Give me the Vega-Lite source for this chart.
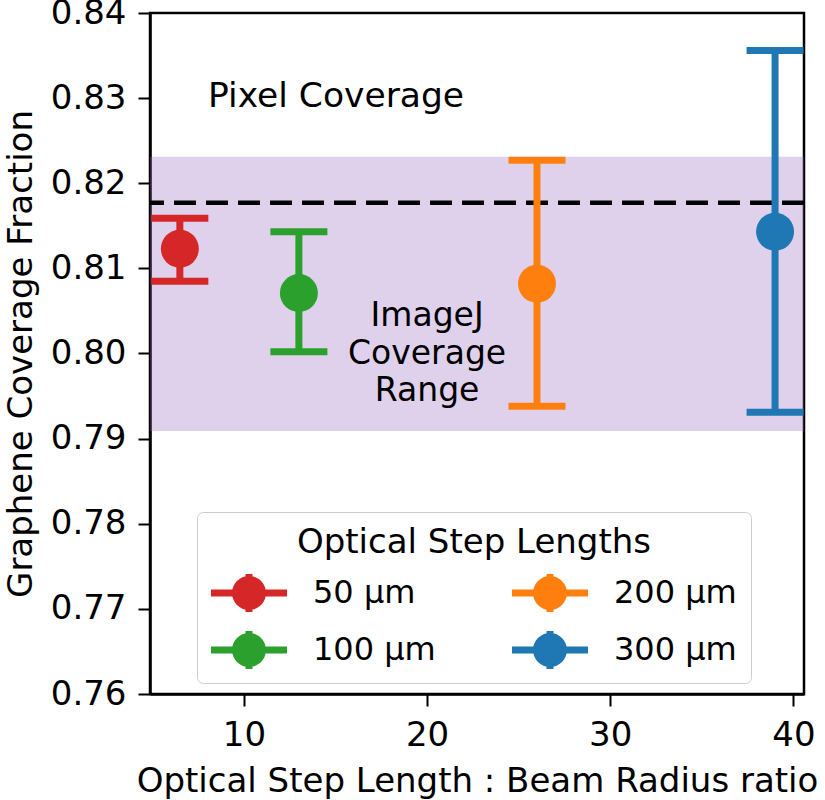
{
  "$schema": "https://vega.github.io/schema/vega-lite/v6.json",
  "width": 654,
  "height": 681,
  "autosize": "none",
  "padding": {"left": 150, "top": 13, "right": 21, "bottom": 106},
  "background": "white",
  "config": {
    "font": "DejaVu Sans",
    "view": {"stroke": "black", "strokeWidth": 2.5},
    "axis": {
      "grid": false,
      "domainColor": "black",
      "domainWidth": 2.5,
      "tickColor": "black",
      "tickWidth": 2,
      "tickSize": 12,
      "labelFont": "DejaVu Sans",
      "labelFontSize": 34,
      "labelColor": "black",
      "labelPadding": 12,
      "titleFont": "DejaVu Sans",
      "titleFontSize": 34,
      "titleFontWeight": "normal",
      "titleColor": "black"
    }
  },
  "layer": [
    {
      "data": {"values": [{"lo": 0.7909, "hi": 0.8231}]},
      "mark": {"type": "rect", "color": "#9467bd", "opacity": 0.3},
      "encoding": {
        "y": {"field": "lo", "type": "quantitative", "scale": {"domain": [0.76, 0.84], "zero": false, "nice": false}},
        "y2": {"field": "hi"}
      }
    },
    {
      "data": {"values": [{"pixel": 0.8177}]},
      "mark": {"type": "rule", "color": "black", "strokeWidth": 4.5, "strokeDash": [22, 10]},
      "encoding": {
        "y": {"field": "pixel", "type": "quantitative"}
      }
    },
    {
      "data": {"name": "pts"},
      "mark": {"type": "rule", "strokeWidth": 7, "clip": true},
      "encoding": {
        "x": {"field": "ratio", "type": "quantitative"},
        "y": {"field": "lo", "type": "quantitative"},
        "y2": {"field": "hi"},
        "color": {"field": "step", "type": "nominal"}
      }
    },
    {
      "data": {"name": "pts"},
      "mark": {"type": "tick", "orient": "horizontal", "size": 57, "thickness": 7, "opacity": 1, "clip": true},
      "encoding": {
        "x": {"field": "ratio", "type": "quantitative"},
        "y": {"field": "lo", "type": "quantitative"},
        "color": {"field": "step", "type": "nominal"}
      }
    },
    {
      "data": {"name": "pts"},
      "mark": {"type": "tick", "orient": "horizontal", "size": 57, "thickness": 7, "opacity": 1, "clip": true},
      "encoding": {
        "x": {"field": "ratio", "type": "quantitative"},
        "y": {"field": "hi", "type": "quantitative"},
        "color": {"field": "step", "type": "nominal"}
      }
    },
    {
      "data": {"name": "pts"},
      "mark": {"type": "point", "shape": "circle", "filled": true, "opacity": 1, "size": 1444},
      "encoding": {
        "x": {
          "field": "ratio",
          "type": "quantitative",
          "title": "Optical Step Length : Beam Radius ratio",
          "scale": {"domain": [4.87, 40.58], "zero": false, "nice": false},
          "axis": {"values": [10, 20, 30, 40], "titlePadding": 12}
        },
        "y": {
          "field": "frac",
          "type": "quantitative",
          "title": "Graphene Coverage Fraction",
          "axis": {"values": [0.76, 0.77, 0.78, 0.79, 0.8, 0.81, 0.82, 0.83, 0.84], "format": ".2f", "titlePadding": 12}
        },
        "color": {
          "field": "step",
          "type": "nominal",
          "scale": {
            "domain": ["50 μm", "100 μm", "200 μm", "300 μm"],
            "range": ["#d62728", "#2ca02c", "#ff7f0e", "#1f77b4"]
          },
          "legend": {
            "title": "Optical Step Lengths",
            "orient": "none",
            "legendX": 47,
            "legendY": 499,
            "columns": 2,
            "columnPadding": 76,
            "rowPadding": -15,
            "padding": 14,
            "fillColor": "white",
            "strokeColor": "#cccccc",
            "cornerRadius": 6,
            "titleFontSize": 34,
            "titleFontWeight": "normal",
            "titleColor": "black",
            "titleLimit": 600,
            "titleAnchor": "middle",
            "titleAlign": "center",
            "titlePadding": -5,
            "labelFontSize": 32,
            "labelColor": "black",
            "labelOffset": 26,
            "symbolType": "M-1,-0.092H1V0.092H-1Z M0.447,0A0.447,0.447 0 1,1 -0.447,0A0.447,0.447 0 1,1 0.447,0Z M-0.092,-0.5H0.092V0.5H-0.092Z",
            "symbolSize": 5776,
            "symbolStrokeWidth": 0,
            "symbolOpacity": 1
          }
        }
      }
    },
    {
      "data": {"values": [{"x": 15.03, "y": 0.829, "label": "Pixel Coverage"}]},
      "mark": {"type": "text", "fontSize": 34.5, "align": "center", "baseline": "alphabetic", "color": "black"},
      "encoding": {
        "x": {"field": "x", "type": "quantitative"},
        "y": {"field": "y", "type": "quantitative"},
        "text": {"field": "label"}
      }
    },
    {
      "data": {"values": [{"x": 20.0, "y": 0.8032, "label": "ImageJ\nCoverage\nRange"}]},
      "mark": {"type": "text", "fontSize": 33, "align": "center", "baseline": "alphabetic", "lineBreak": "\n", "lineHeight": 37.5, "color": "black"},
      "encoding": {
        "x": {"field": "x", "type": "quantitative"},
        "y": {"field": "y", "type": "quantitative"},
        "text": {"field": "label"}
      }
    }
  ],
  "datasets": {
    "pts": [
      {"step": "50 μm", "ratio": 6.5, "frac": 0.8123, "lo": 0.8085, "hi": 0.8159},
      {"step": "100 μm", "ratio": 13, "frac": 0.8071, "lo": 0.8002, "hi": 0.8143},
      {"step": "200 μm", "ratio": 26, "frac": 0.8082, "lo": 0.7938, "hi": 0.8227},
      {"step": "300 μm", "ratio": 39, "frac": 0.8143, "lo": 0.7931, "hi": 0.8356}
    ]
  }
}
